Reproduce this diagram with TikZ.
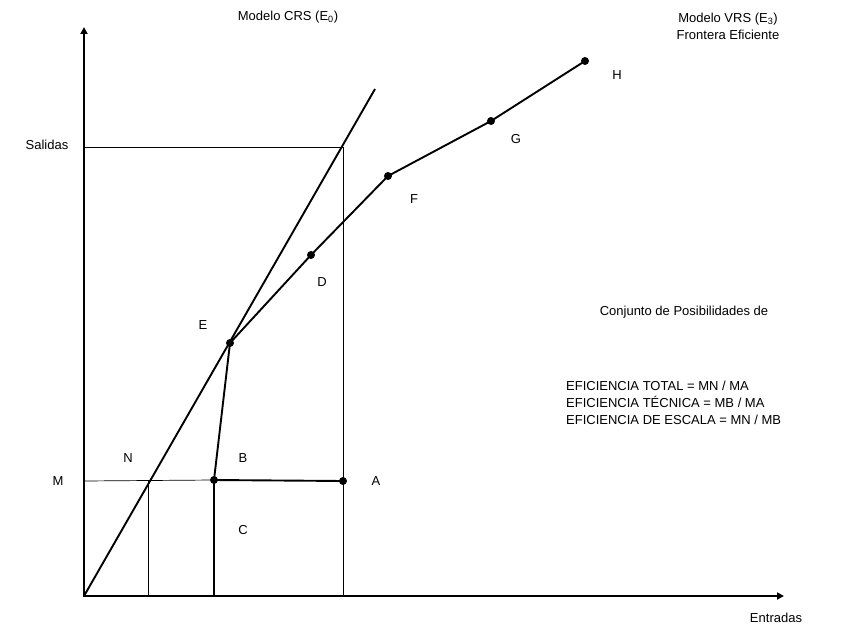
\documentclass[tikz,border=0pt]{standalone}
\usepackage{fontspec}
\setmainfont{Liberation Sans}
\usetikzlibrary{arrows.meta}
\begin{document}
\begin{tikzpicture}[x=1pt,y=-1pt,
  thin line/.style={line width=0.7pt},
  thick line/.style={line width=1.9pt},
  axis/.style={line width=1.9pt,-{Triangle[length=7pt,width=7pt]}},
  dot/.style={circle,fill=black,inner sep=0pt,minimum size=8pt},
  lbl/.style={font=\fontsize{13}{17}\selectfont,inner sep=0pt}]
\useasboundingbox (0,0) rectangle (843,626);
% coordinates
\coordinate (O) at (84,596);
\coordinate (yend) at (84,27);
\coordinate (xend) at (784,596);
\coordinate (crsend) at (375,89);
\coordinate (S0) at (84,147);
\coordinate (S1) at (343,147);
\coordinate (A0) at (343,596);
\coordinate (M0) at (84,481);
\coordinate (Nt) at (148,481);
\coordinate (Nb) at (148,596);
\coordinate (Cb) at (214,596);
% frontier points
\node[dot] (pH) at (585,61) {};
\node[dot] (pG) at (491,121) {};
\node[dot] (pF) at (388,176) {};
\node[dot] (pD) at (311,255) {};
\node[dot] (pE) at (230,343) {};
\node[dot] (pB) at (214,480) {};
\node[dot] (pA) at (343,481) {};
% thin lines
\draw[thin line] (S0) -- (S1) -- (A0);
\draw[thin line] (M0) -- (pB);
\draw[thin line] (Nt) -- (Nb);
% thick lines
\draw[thick line] (O) -- (crsend);
\draw[thick line] (pH.center) -- (pG.center) -- (pF.center) -- (pD.center) -- (pE.center) -- (pB.center) -- (pA.center);
\draw[thick line] (pB.center) -- (Cb);
% axes
\draw[axis] (O) -- (yend);
\draw[axis] ([xshift=-1pt]O) -- (xend);
% labels
\node[lbl] (tcrs) at (288,17) {Modelo CRS (E\textsubscript{0})};
\node[lbl,align=center] (tvrs) at (728,26) {Modelo VRS (E\textsubscript{3})\\Frontera Eficiente};
\node[lbl] (lH) at (617,75) {H};
\node[lbl] (lG) at (516,139) {G};
\node[lbl] (lF) at (414,199) {F};
\node[lbl] (lD) at (322,282) {D};
\node[lbl] (lE) at (203,325) {E};
\node[lbl] (lN) at (128,458) {N};
\node[lbl] (lB) at (243,458) {B};
\node[lbl] (lA) at (376,481) {A};
\node[lbl] (lC) at (243,530) {C};
\node[lbl] (lM) at (58,481) {M};
\node[lbl] (lS) at (47,145) {Salidas};
\node[lbl] (lEn) at (776,618) {Entradas};
\node[lbl] (conj) at (684,312) {Conjunto de Posibilidades de};
\node[lbl,anchor=west,align=left] (efic) at (566,403) {EFICIENCIA TOTAL = MN / MA\\EFICIENCIA TÉCNICA = MB / MA\\EFICIENCIA DE ESCALA = MN / MB};
\end{tikzpicture}
\end{document}
